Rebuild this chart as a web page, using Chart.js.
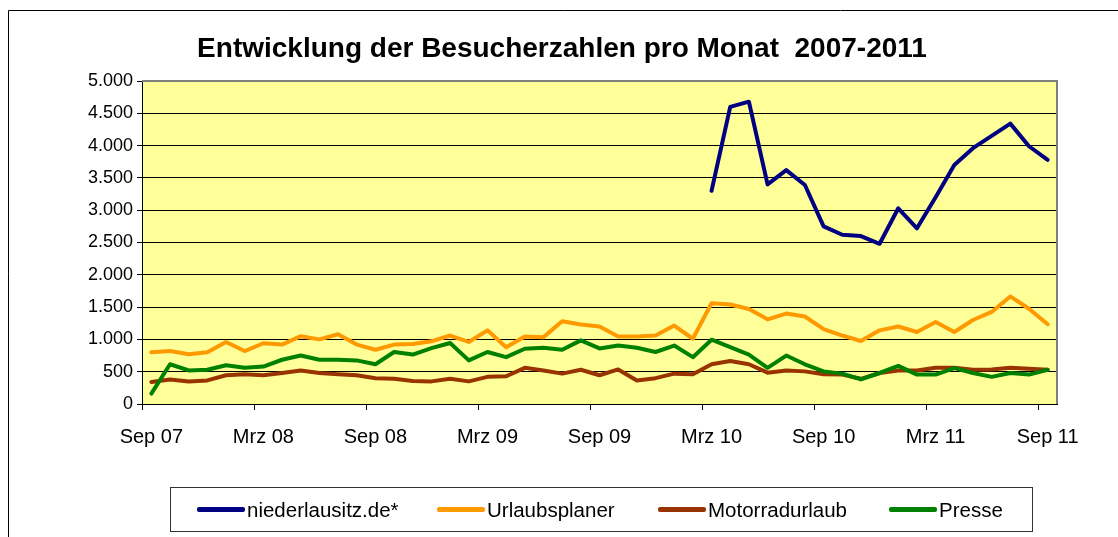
<!DOCTYPE html>
<html lang="de">
<head>
<meta charset="utf-8">
<title>Entwicklung der Besucherzahlen pro Monat 2007-2011</title>
<script src="https://cdn.jsdelivr.net/npm/chart.js@4.4.1/dist/chart.umd.min.js"></script>
<style>
  html, body { margin: 0; padding: 0; background: #fff; }
  #wrap { position: relative; width: 1118px; height: 537px; overflow: hidden; font-family: "Liberation Sans", Arial, sans-serif; }
  #chart { position: absolute; left: 0; top: 0; }
  #title { position: absolute; left: 0; width: 1124px; top: 31px; text-align: center; white-space: pre; font-size: 28px; font-weight: bold; line-height: 34px; color: #000; }
  #legend { position: absolute; left: 170px; top: 487px; width: 863px; height: 45px; border: 1px solid #333; box-sizing: border-box; }
  .item { position: absolute; top: 0; height: 43px; display: flex; align-items: center; font-size: 20.5px; color: #000; }
  .item i { display: inline-block; width: 48px; height: 5px; border-radius: 2px; margin-right: 2px; }
</style>
</head>
<body>
<div id="wrap">
  <canvas id="chart" width="1118" height="537"></canvas>
  <div id="title"></div>
  <div id="legend"></div>
</div>
<script>
const chartTitle = 'Entwicklung der Besucherzahlen pro Monat  2007-2011';

// Monate Sep 07 .. Sep 11
const months = [
  'Sep 07','Okt 07','Nov 07','Dez 07','Jan 08','Feb 08','Mrz 08','Apr 08','Mai 08','Jun 08','Jul 08','Aug 08',
  'Sep 08','Okt 08','Nov 08','Dez 08','Jan 09','Feb 09','Mrz 09','Apr 09','Mai 09','Jun 09','Jul 09','Aug 09',
  'Sep 09','Okt 09','Nov 09','Dez 09','Jan 10','Feb 10','Mrz 10','Apr 10','Mai 10','Jun 10','Jul 10','Aug 10',
  'Sep 10','Okt 10','Nov 10','Dez 10','Jan 11','Feb 11','Mrz 11','Apr 11','Mai 11','Jun 11','Jul 11','Aug 11',
  'Sep 11'
];

const niederlausitz = [
  null, null, null, null, null, null, null, null, null, null, null, null,
  null, null, null, null, null, null, null, null, null, null, null, null,
  null, null, null, null, null, null, 3300, 4600, 4680, 3400, 3620, 3390,
  2750, 2620, 2600, 2480, 3030, 2720, 3200, 3700, 3960, 4150, 4340, 3990,
  3780
];
const urlaubsplaner = [
  800, 820, 770, 800, 960, 820, 940, 920, 1050, 1000, 1080, 920,
  840, 920, 930, 970, 1060, 960, 1140, 880, 1045, 1035, 1280, 1230,
  1200, 1045, 1045, 1060, 1215, 1010, 1560, 1540, 1470, 1310, 1400, 1355,
  1160, 1060, 975, 1140, 1200, 1115, 1270, 1115, 1300, 1425, 1665, 1475,
  1235
];
const motorradurlaub = [
  340, 380, 350, 365, 445, 460, 445, 480, 520, 480, 460, 445,
  400, 390, 355, 350, 390, 350, 420, 430, 560, 520, 470, 530,
  445, 535, 365, 400, 470, 460, 615, 665, 615, 485, 520, 505,
  460, 455, 390, 480, 520, 520, 560, 560, 530, 535, 560, 545,
  530
];
const presse = [
  160, 615, 520, 530, 600, 560, 580, 685, 750, 685, 685, 675,
  615, 805, 765, 865, 945, 675, 805, 725, 855, 870, 840, 985,
  860, 905, 870, 805, 905, 725, 995, 880, 765, 560, 750, 615,
  505, 470, 380, 480, 590, 455, 455, 555, 480, 420, 480, 455,
  530
];
const yTicks = [0, 500, 1000, 1500, 2000, 2500, 3000, 3500, 4000, 4500, 5000];

const series = [
  { label: 'niederlausitz.de*', data: niederlausitz, color: '#000080', order: 4 },
  { label: 'Urlaubsplaner', data: urlaubsplaner, color: '#FF9900', order: 3 },
  { label: 'Motorradurlaub', data: motorradurlaub, color: '#993300', order: 2 },
  { label: 'Presse', data: presse, color: '#008000', order: 1 }
];

const FONT = '"Liberation Sans", Arial, sans-serif';

document.getElementById('title').textContent = chartTitle;

// Plotfläche gelb + Rahmen
const plotArea = {
  id: 'plotArea',
  beforeDraw(chart) {
    const { ctx, chartArea: a } = chart;
    ctx.save();
    ctx.fillStyle = '#FFFF99';
    ctx.fillRect(a.left, a.top, a.right - a.left, a.bottom - a.top);
    // äußerer Diagrammrahmen
    ctx.strokeStyle = '#000';
    ctx.lineWidth = 1;
    ctx.beginPath();
    ctx.moveTo(8.5, 537);
    ctx.lineTo(8.5, 10.5);
    ctx.lineTo(1118, 10.5);
    ctx.stroke();
    ctx.restore();
  },
  beforeDatasetsDraw(chart) {
    const { ctx, chartArea: a } = chart;
    ctx.save();
    ctx.strokeStyle = '#808080';
    ctx.lineWidth = 2;
    ctx.beginPath();
    ctx.moveTo(a.left, a.top);
    ctx.lineTo(a.right, a.top);
    ctx.lineTo(a.right, a.bottom);
    ctx.stroke();
    ctx.restore();
  }
};

new Chart(document.getElementById('chart'), {
  type: 'line',
  data: {
    labels: months,
    datasets: series.map(s => ({
      label: s.label,
      data: s.data,
      borderColor: s.color,
      backgroundColor: s.color,
      borderWidth: 4,
      pointRadius: 0,
      tension: 0,
      spanGaps: false,
      borderJoinStyle: 'round',
      borderCapStyle: 'round',
      order: s.order
    }))
  },
  options: {
    responsive: false,
    animation: false,
    layout: { padding: { left: 0, top: 81, right: 61, bottom: 0 } },
    plugins: {
      legend: { display: false },
      tooltip: { enabled: false },
      title: { display: false }
    },
    scales: {
      x: {
        offset: true,
        grid: {
          offset: true,
          drawOnChartArea: false,
          drawTicks: true,
          tickLength: 6,
          tickColor: ctx => (ctx.index % 6 === 0 ? '#000' : 'rgba(0,0,0,0)')
        },
        border: { color: '#000', width: 1 },
        ticks: {
          autoSkip: false,
          maxRotation: 0,
          minRotation: 0,
          padding: 15,
          color: '#000',
          font: { family: FONT, size: 20 },
          callback: (v, i) => (i % 6 === 0 ? months[i] : '')
        },
        afterFit: scale => { scale.height = 133; }
      },
      y: {
        min: 0,
        max: 5000,
        afterBuildTicks: scale => { scale.ticks = yTicks.map(v => ({ value: v })); },
        grid: { color: '#000', lineWidth: 1, tickLength: 5, tickColor: '#000' },
        border: { color: '#000', width: 1 },
        ticks: {
          padding: 4,
          color: '#000',
          font: { family: FONT, size: 18 },
          callback: v => v.toLocaleString('de-DE')
        },
        afterFit: scale => { scale.width = 142; }
      }
    }
  },
  plugins: [plotArea]
});

// Legende als HTML
const legendX = [26, 266, 487, 718];
const legend = document.getElementById('legend');
series.forEach((s, i) => {
  const el = document.createElement('div');
  el.className = 'item';
  el.style.left = legendX[i] + 'px';
  el.innerHTML = '<i style="background:' + s.color + '"></i><span>' + s.label + '</span>';
  legend.appendChild(el);
});
</script>
</body>
</html>
